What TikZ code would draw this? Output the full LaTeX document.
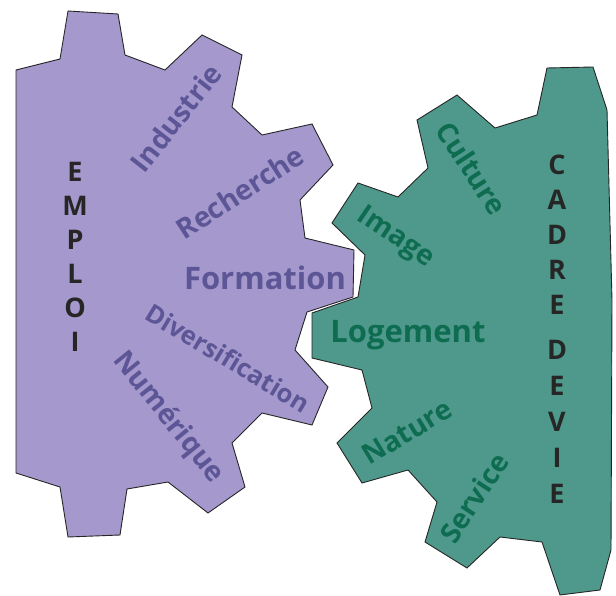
\documentclass[tikz,border=0pt]{standalone}
\usepackage{fontspec}
\setmainfont{Open Sans}
\definecolor{lilacfill}{RGB}{165,152,204}
\definecolor{lilacink}{RGB}{92,86,150}
\definecolor{sagefill}{RGB}{78,153,139}
\definecolor{sageink}{RGB}{14,108,80}
\tikzset{
  gear/.style={draw=black!85, line width=0.9pt, line join=miter},
  word/.style={font=\bfseries\fontsize{28}{28}\selectfont, inner sep=0pt},
  bigword/.style={font=\bfseries\fontsize{31}{31}\selectfont, inner sep=0pt},
  smallword/.style={font=\bfseries\fontsize{25.5}{25.5}\selectfont, inner sep=0pt},
  column/.style={font=\bfseries\fontsize{27}{34}\selectfont, inner sep=0pt, align=center, text=black!85}
}

\begin{document}
\begin{tikzpicture}[x=1pt, y=-1pt]
		%%%%% START %%%%%
		\useasboundingbox (0, 0) rectangle (616, 596);
		
		% purple gear
		\draw[gear, fill=lilacfill] (16, 70) -- (60, 59) -- (68, 11) -- (118, 14) -- (125, 55) -- (165, 70)
			-- (202, 35) -- (242, 55) -- (232, 107) -- (262, 135) -- (312, 124) -- (333, 165)
			-- (300, 200) -- (305, 238) -- (354, 250) -- (353, 297) -- (307, 312) -- (295, 350)
			-- (328, 387) -- (312, 425) -- (262, 413) -- (232, 443) -- (245, 487) -- (208, 513)
			-- (168, 482) -- (127, 489) -- (120, 535) -- (68, 537) -- (60, 487) -- (16, 473) -- cycle;
		
		% green gear
		\draw[gear, fill=sagefill] (547, 68) -- (593, 67) -- (607, 110) -- (612, 300) -- (611, 550)
			-- (600, 590) -- (560, 595) -- (542, 542) -- (500, 537) -- (467, 568) -- (425, 542)
			-- (437, 502) -- (408, 470) -- (362, 483) -- (337, 443) -- (372, 408) -- (362, 370)
			-- (312, 358) -- (312, 313) -- (358, 297) -- (365, 255) -- (332, 223) -- (358, 183)
			-- (398, 197) -- (428, 168) -- (417, 120) -- (457, 95) -- (495, 128) -- (537, 115) -- cycle;
		
		\node[column] (emploi) at (75, 257) {E\\M\\P\\L\\O\\I};
		\node[column, font=\bfseries\fontsize{27}{35}\selectfont] (cadre) at (557, 235) {C\\A\\D\\R\\E};
		\node[column, font=\bfseries\fontsize{27}{36}\selectfont] (devie) at (557, 422) {D\\E\\V\\I\\E};
		
		\node[word, text=lilacink, rotate=52] (industrie) at (176, 118) {Industrie};
		\node[word, text=lilacink, rotate=33] (recherche) at (240, 192) {Recherche};
		\node[bigword, text=lilacink] (formation) at (265, 278) {Formation};
		\node[smallword, text=lilacink, rotate=-31] (diversification) at (228, 358) {Diversification};
		\node[word, text=lilacink, rotate=-51] (numerique) at (168, 418) {Numérique};
		
		\node[word, text=sageink, rotate=-57] (culture) at (472, 168) {Culture};
		\node[word, text=sageink, rotate=-34] (image) at (395, 238) {Image};
		\node[bigword, text=sageink] (logement) at (408, 335) {Logement};
		\node[word, text=sageink, rotate=31] (nature) at (407, 432) {Nature};
		\node[word, text=sageink, rotate=57] (service) at (474, 498) {Service};
		
		%%%%% END %%%%%
	\end{tikzpicture}
\end{document}
